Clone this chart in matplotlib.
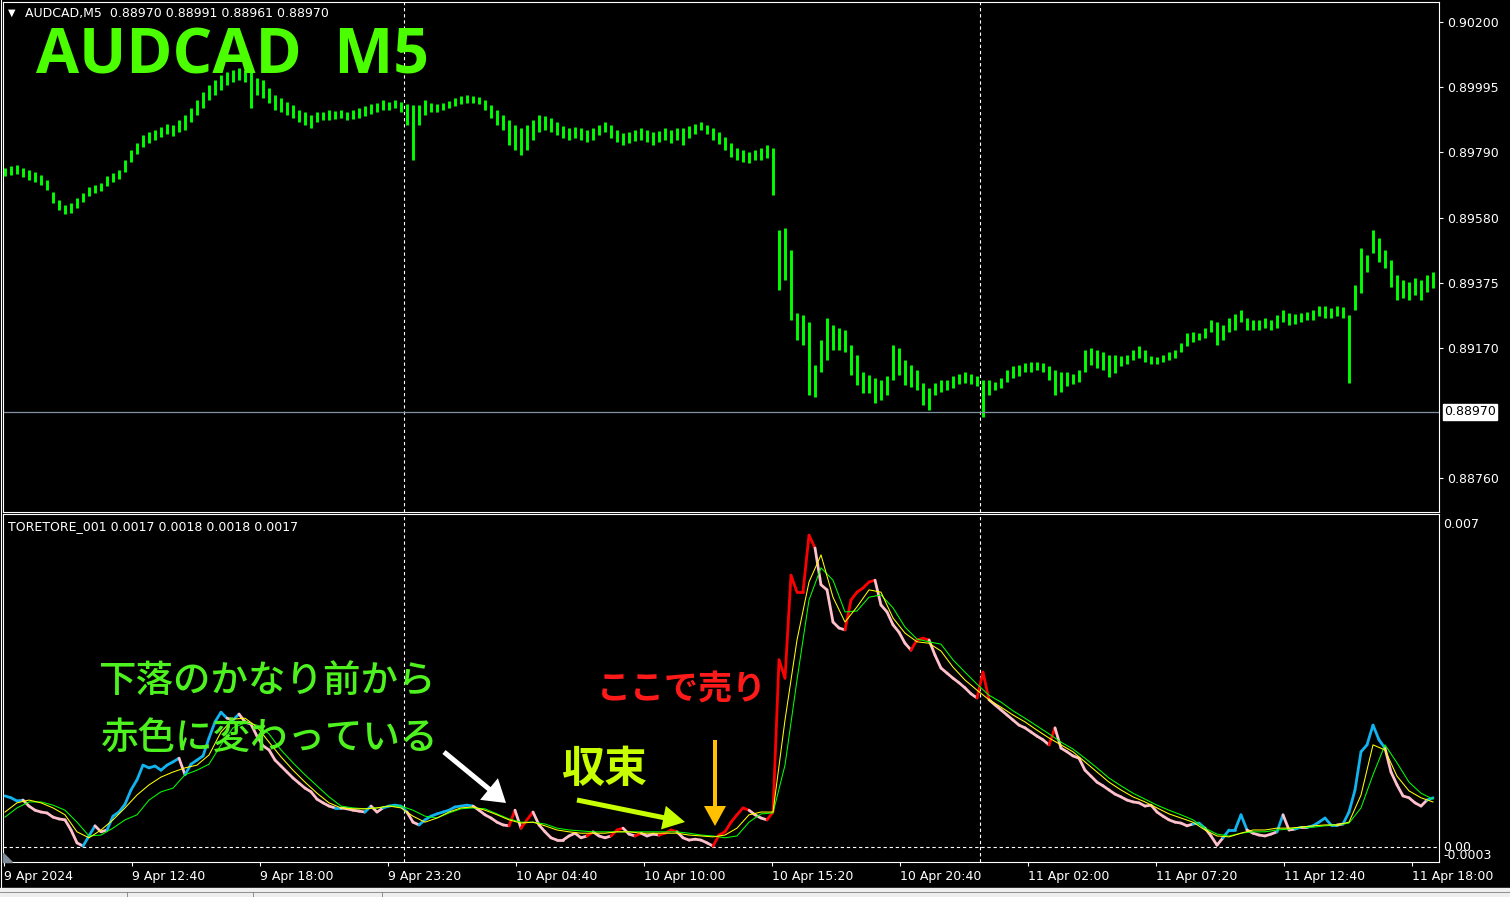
import numpy as np
import matplotlib.pyplot as plt
from matplotlib.collections import LineCollection
from matplotlib.patches import Polygon, Rectangle, FancyArrowPatch
from matplotlib.lines import Line2D
import matplotlib.transforms as mtransforms

# ---- data (M5 bars, sampled every 3rd bar) ----
# price highs / lows in points above 0.88000
price_hi = [1739, 1745, 1748, 1739, 1733, 1726, 1717, 1701, 1663, 1638,
            1622, 1628, 1644, 1660, 1679, 1685, 1692, 1714, 1723, 1733,
            1764, 1796, 1818, 1843, 1853, 1859, 1868, 1878, 1875, 1891,
            1906, 1928, 1954, 1979, 2001, 2017, 2033, 2042, 2048, 2055,
            2048, 2042, 2023, 2017, 1992, 1969, 1960, 1947, 1938, 1922,
            1916, 1906, 1916, 1916, 1922, 1919, 1922, 1916, 1922, 1928,
            1935, 1941, 1944, 1954, 1947, 1954, 1947, 1941, 1938, 1938,
            1954, 1944, 1941, 1944, 1951, 1960, 1966, 1969, 1966, 1963,
            1954, 1938, 1922, 1906, 1891, 1875, 1865, 1875, 1891, 1906,
            1903, 1897, 1884, 1872, 1865, 1868, 1865, 1859, 1865, 1875,
            1884, 1875, 1859, 1849, 1853, 1859, 1865, 1859, 1853, 1856,
            1865, 1859, 1865, 1865, 1872, 1878, 1884, 1875, 1865, 1853,
            1837, 1818, 1802, 1796, 1789, 1796, 1802, 1812, 1802, 1543,
            1549, 1480, 1281, 1275, 1253, 1117, 1196, 1265, 1243, 1234,
            1227, 1180, 1148, 1095, 1085, 1076, 1069, 1082, 1180, 1171,
            1133, 1117, 1101, 1060, 1044, 1060, 1069, 1069, 1082, 1088,
            1095, 1088, 1082, 1069, 1069, 1063, 1076, 1101, 1114, 1117,
            1123, 1126, 1126, 1123, 1114, 1101, 1095, 1095, 1088, 1101,
            1164, 1171, 1164, 1158, 1148, 1148, 1145, 1148, 1164, 1177,
            1164, 1145, 1142, 1148, 1158, 1164, 1186, 1218, 1221, 1218,
            1234, 1259, 1253, 1243, 1265, 1278, 1290, 1265, 1259, 1259,
            1265, 1259, 1275, 1290, 1281, 1278, 1281, 1284, 1290, 1303,
            1303, 1297, 1303, 1300, 1275, 1369, 1486, 1464, 1543, 1518,
            1480, 1448, 1401, 1385, 1379, 1392, 1385, 1401, 1411]
price_lo = [1714, 1717, 1720, 1711, 1701, 1695, 1685, 1669, 1628, 1606,
            1594, 1597, 1613, 1632, 1651, 1660, 1666, 1682, 1695, 1704,
            1726, 1758, 1783, 1805, 1818, 1827, 1837, 1846, 1840, 1853,
            1859, 1884, 1906, 1928, 1954, 1969, 1985, 2001, 2011, 2017,
            2011, 1928, 1969, 1960, 1944, 1922, 1916, 1906, 1897, 1884,
            1875, 1865, 1884, 1891, 1891, 1894, 1897, 1891, 1894, 1897,
            1903, 1909, 1916, 1922, 1922, 1928, 1916, 1875, 1764, 1875,
            1906, 1916, 1916, 1922, 1928, 1935, 1941, 1944, 1944, 1941,
            1922, 1897, 1875, 1859, 1812, 1796, 1780, 1796, 1827, 1853,
            1859, 1853, 1843, 1834, 1827, 1834, 1827, 1821, 1827, 1843,
            1853, 1834, 1821, 1812, 1818, 1824, 1827, 1821, 1812, 1821,
            1827, 1818, 1827, 1812, 1834, 1846, 1859, 1846, 1827, 1815,
            1796, 1774, 1764, 1758, 1755, 1764, 1764, 1771, 1654, 1354,
            1385, 1259, 1196, 1180, 1022, 1016, 1095, 1133, 1164, 1164,
            1158, 1085, 1054, 1028, 1028, 997, 1006, 1022, 1069, 1085,
            1054, 1047, 1038, 990, 975, 1022, 1032, 1038, 1044, 1057,
            1060, 1057, 1050, 953, 1022, 1038, 1044, 1063, 1076, 1082,
            1095, 1095, 1101, 1095, 1069, 1022, 1032, 1050, 1057, 1063,
            1095, 1117, 1107, 1101, 1079, 1092, 1114, 1120, 1133, 1139,
            1126, 1120, 1120, 1126, 1133, 1139, 1158, 1177, 1190, 1196,
            1202, 1221, 1180, 1196, 1221, 1227, 1253, 1227, 1227, 1227,
            1234, 1227, 1234, 1253, 1243, 1246, 1253, 1259, 1259, 1272,
            1265, 1265, 1272, 1265, 1060, 1290, 1344, 1411, 1471, 1442,
            1423, 1363, 1322, 1328, 1322, 1338, 1322, 1347, 1360]

# TORETORE_001 main line (x 1e-4), every 3rd bar
osc = [11.1, 10.7, 10.0, 10.2, 8.9, 8.0, 7.6, 7.4, 6.5, 6.1,
       5.9, 3.7, 0.9, 0.2, 2.4, 4.6, 3.3, 3.7, 6.7, 7.6,
       9.3, 12.4, 14.6, 17.8, 17.2, 17.6, 16.7, 17.8, 18.5, 19.3,
       15.7, 18.0, 18.9, 19.8, 23.7, 27.2, 29.3, 28.0, 27.6, 28.9,
       27.2, 26.7, 24.1, 22.0, 21.1, 18.9, 17.6, 16.3, 15.0, 13.9,
       12.8, 12.0, 10.4, 9.6, 8.9, 8.5, 8.5, 8.3, 8.0, 7.8,
       7.6, 8.9, 7.6, 8.5, 8.9, 9.1, 8.9, 7.6, 5.4, 4.8,
       5.9, 6.7, 7.2, 7.6, 8.0, 8.7, 8.9, 9.1, 8.9, 8.0,
       7.0, 6.3, 5.4, 4.8, 4.6, 8.0, 4.1, 5.9, 7.6, 4.8,
       3.3, 2.0, 1.5, 1.5, 2.4, 3.0, 2.0, 2.4, 3.3, 2.4,
       2.0, 2.4, 3.7, 4.1, 2.8, 2.4, 3.0, 2.4, 2.8, 2.6,
       3.0, 3.7, 3.3, 2.0, 1.5, 1.7, 1.5, 0.9, 0.2, 2.6,
       3.3, 5.4, 7.0, 8.5, 8.0, 7.0, 6.3, 5.9, 7.6, 40.7,
       36.7, 59.1, 55.4, 55.4, 67.8, 65.0, 57.0, 55.9, 48.9, 47.6,
       47.2, 53.7, 55.4, 56.3, 57.6, 58.0, 52.6, 51.1, 48.3, 46.7,
       44.3, 42.8, 45.0, 45.4, 45.0, 41.7, 38.9, 37.8, 36.7, 35.7,
       34.6, 33.3, 32.4, 38.0, 32.0, 30.9, 29.8, 28.7, 27.6, 26.5,
       25.9, 25.0, 24.1, 23.3, 22.2, 25.9, 21.5, 20.7, 19.8, 19.3,
       16.7, 15.4, 14.1, 13.3, 12.4, 11.5, 10.9, 10.2, 9.8, 9.6,
       8.9, 9.1, 7.6, 6.7, 5.9, 5.4, 5.2, 4.6, 5.0, 5.2,
       4.1, 2.4, 0.4, 2.0, 3.7, 3.7, 7.0, 3.7, 3.0, 2.6,
       2.4, 2.8, 3.3, 7.0, 3.7, 3.9, 4.3, 4.3, 4.6, 5.4,
       6.3, 4.8, 4.8, 5.0, 7.6, 12.4, 20.7, 22.2, 26.5, 23.3,
       21.5, 16.3, 13.5, 11.1, 10.7, 9.6, 8.9, 10.2, 10.7]

# signal lines (x 1e-4), every 6th bar
ma_fast = [7.6, 9.6, 10.2, 9.6, 8.5, 7.0, 3.3, 2.0, 3.7, 5.9,
           8.5, 11.3, 13.5, 15.2, 16.3, 17.2, 17.8, 20.0, 25.0, 27.8,
           28.0, 26.1, 22.8, 19.6, 16.7, 14.1, 11.7, 9.6, 8.5, 8.3,
           8.3, 8.5, 8.9, 8.5, 6.7, 5.4, 6.3, 7.6, 8.5, 8.7,
           8.0, 7.0, 5.9, 5.2, 5.4, 4.6, 3.7, 3.3, 3.0, 3.0,
           3.0, 3.3, 3.3, 3.0, 3.0, 3.0, 3.0, 2.6, 2.4, 2.2,
           2.6, 4.1, 7.0, 7.6, 7.6, 27.6, 45.0, 57.6, 63.5, 54.3,
           48.9, 52.2, 55.9, 55.4, 49.8, 46.5, 44.6, 44.3, 42.6, 39.1,
           36.3, 34.1, 32.0, 30.4, 28.7, 27.2, 25.4, 23.7, 22.2, 20.7,
           18.5, 16.3, 14.1, 12.4, 10.9, 9.8, 8.5, 7.2, 6.3, 5.4,
           3.7, 2.4, 2.2, 3.0, 3.7, 3.7, 4.1, 4.1, 4.3, 4.6,
           4.8, 4.8, 5.4, 11.3, 22.2, 21.1, 15.4, 12.2, 10.7, 9.8]
ma_slow = [6.5, 8.5, 9.8, 9.8, 9.1, 8.0, 5.4, 2.4, 2.6, 4.1,
           5.9, 7.0, 10.2, 12.0, 12.8, 15.7, 16.7, 18.0, 22.2, 25.9,
           27.0, 26.5, 24.6, 21.1, 18.3, 15.7, 13.3, 10.9, 8.9, 8.5,
           8.3, 8.5, 8.9, 8.9, 8.0, 6.7, 6.3, 7.4, 8.3, 8.5,
           8.3, 7.2, 6.1, 5.4, 5.4, 5.0, 4.1, 3.7, 3.5, 3.3,
           3.3, 3.3, 3.3, 3.3, 3.3, 3.3, 3.3, 3.0, 2.6, 2.4,
           2.0, 2.4, 5.4, 7.2, 7.4, 17.8, 36.3, 53.7, 60.7, 58.0,
           51.1, 51.3, 54.3, 54.8, 52.0, 47.8, 45.2, 44.6, 44.1, 40.7,
           38.0, 35.4, 33.0, 31.5, 29.6, 28.0, 26.3, 24.6, 22.8, 21.3,
           19.3, 17.2, 15.0, 13.3, 11.7, 10.4, 9.1, 8.0, 7.0, 5.9,
           4.1, 2.8, 2.4, 3.0, 3.3, 3.3, 3.7, 3.9, 4.3, 4.3,
           4.6, 4.8, 5.2, 8.5, 15.7, 22.2, 18.3, 14.1, 11.7, 10.4]

price_ticks = [0.90200, 0.89995, 0.89790, 0.89580, 0.89375, 0.89170, 0.88760]
last_price = 0.88970
time_labels = ['9 Apr 2024', '9 Apr 12:40', '9 Apr 18:00', '9 Apr 23:20',
               '10 Apr 04:40', '10 Apr 10:00', '10 Apr 15:20', '10 Apr 20:40',
               '11 Apr 02:00', '11 Apr 07:20', '11 Apr 12:40', '11 Apr 18:00']
red_from, red_to = 255, 590   # bars where the indicator paints red instead of blue

hi = 0.88 + np.array(price_hi) / 1e5
lo = 0.88 + np.array(price_lo) / 1e5
bar_idx = np.arange(len(price_hi)) * 3
osc = np.array(osc) * 1e-4
osc_idx = np.arange(len(osc)) * 3
fast = np.array(ma_fast) * 1e-4
slow = np.array(ma_slow) * 1e-4
ma_idx = np.arange(len(ma_fast)) * 6

# ---- figure ----
W, H = 1510, 897
fig = plt.figure(figsize=(W / 100, H / 100), dpi=100, facecolor='black')

def fx(x):
    return x / W

def fy(y):
    return 1 - y / H

def px_axes(x0, y0, x1, y1):
    a = fig.add_axes([fx(x0), fy(y1), (x1 - x0) / W, (y1 - y0) / H])
    a.set_facecolor('black')
    for s in a.spines.values():
        s.set_color('white')
        s.set_linewidth(0.8)
    return a

ax1 = px_axes(3, 2, 1439, 512)
ax2 = px_axes(3, 514, 1439, 862)
for a in (ax1, ax2):
    a.set_xlim(-1, 717)
    for xv in (199.5, 487.5):
        a.axvline(xv, color='white', lw=0.8, ls=(0, (3, 2.5)))

# price panel
ax1.set_ylim(0.88653, 0.90263)
ax1.vlines(bar_idx, lo, hi, color='#00ff00', lw=2.1)
ax1.axhline(last_price, color='#8090a0', lw=0.9)
ax1.set_xticks([])
ax1.yaxis.tick_right()
ax1.set_yticks(price_ticks)
ax1.set_yticklabels(['%.5f' % p for p in price_ticks])
ax1.tick_params(axis='y', colors='white', length=3, width=0.8, pad=3, labelsize=9)
tr = mtransforms.blended_transform_factory(ax1.transAxes, ax1.transData)
ax1.text(1.0035, last_price, '%.5f' % last_price, transform=tr, color='black',
         fontsize=9, va='center', ha='left',
         bbox=dict(boxstyle='square,pad=0.12', fc='white', ec='white'))

# indicator panel
ax2.set_ylim(-0.000326, 0.007239)
ax2.axhline(0, color='white', lw=0.8, ls=(0, (3, 2.5)))
fast_at = np.interp(osc_idx, ma_idx, fast)
cols = []
for k in range(1, len(osc)):
    if osc[k] < fast_at[k]:
        cols.append('#ffc0cb')
    elif red_from <= osc_idx[k] <= red_to:
        cols.append('#ff0000')
    else:
        cols.append('#12b4f0')
pts = np.column_stack([osc_idx, osc])
segs = np.stack([pts[:-1], pts[1:]], axis=1)
ax2.add_collection(LineCollection(segs, colors=cols, linewidths=2.0, capstyle='round'))
ax2.plot(ma_idx, slow, color='#00ff00', lw=0.75)
ax2.plot(ma_idx, fast, color='#ffff00', lw=0.75)
ax2.set_yticks([])
ticks = np.arange(len(time_labels)) * 64 - 0.5
ax2.set_xticks(ticks)
ax2.set_xticklabels(time_labels)
for lbl in ax2.get_xticklabels():
    lbl.set_ha('left')
ax2.tick_params(axis='x', colors='white', length=3, width=0.8, pad=3, labelsize=9)
ax2.text(1.003, 0.007, '0.007', transform=mtransforms.blended_transform_factory(ax2.transAxes, ax2.transData),
         color='white', fontsize=9, va='center', ha='left')
fig.text(fx(1443), fy(847), '0.00', color='white', fontsize=9, va='center', ha='left')
fig.text(fx(1443), fy(855), '-0.0003', color='white', fontsize=9, va='center', ha='left')

# headers
fig.text(fx(8), fy(13), '▼', color='white', fontsize=7, va='center', ha='left')
fig.text(fx(25), fy(13), 'AUDCAD,M5  0.88970 0.88991 0.88961 0.88970', color='white',
         fontsize=9, va='center', ha='left')
fig.text(fx(8), fy(527), 'TORETORE_001 0.0017 0.0018 0.0018 0.0017', color='white',
         fontsize=9, va='center', ha='left')
fig.text(fx(36), fy(57), 'AUDCAD  M5', color='#4cff00', fontsize=45, fontweight='bold',
         family=['Open Sans', 'DejaVu Sans'], va='center', ha='left')

# annotations
jp = ['Noto Sans CJK JP', 'DejaVu Sans']
fig.text(fx(268), fy(681), '下落のかなり前から', color='#4ef21e', fontsize=27, family=jp,
         fontweight='medium', va='center', ha='center')
fig.text(fx(270), fy(739), '赤色に変わっている', color='#4ef21e', fontsize=27, family=jp,
         fontweight='medium', va='center', ha='center')
fig.text(fx(682), fy(689), 'ここで売り', color='#ff1a1a', fontsize=24.5, family=jp,
         fontweight='bold', va='center', ha='center')
fig.text(fx(604), fy(769), '収束', color='#c8ff00', fontsize=31, family=jp,
         fontweight='bold', va='center', ha='center')

def arrow(tail, tip, color, hw, hl, tw):
    fig.patches.append(FancyArrowPatch(
        (fx(tail[0]), fy(tail[1])), (fx(tip[0]), fy(tip[1])), transform=fig.transFigure,
        arrowstyle='simple,head_width=%g,head_length=%g,tail_width=%g' % (hw, hl, tw),
        mutation_scale=0.72, color=color, lw=0, shrinkA=0, shrinkB=0))

arrow((444, 752), (506, 803), 'white', 28, 22, 5)
arrow((577, 800), (685, 822), '#c8ff00', 24, 22, 5)
arrow((715, 740), (715, 826), '#ffc000', 22, 20, 4)

# frame details
fig.patches.append(Polygon([(fx(3), fy(853)), (fx(3), fy(862)), (fx(12), fy(862))],
                           closed=True, transform=fig.transFigure, color='#7f8c99'))
fig.lines.append(Line2D([fx(1), fx(1)], [fy(0), fy(888)], transform=fig.transFigure,
                        color='white', lw=0.8))
fig.patches.append(Rectangle((0, 0), 1, 9 / H, transform=fig.transFigure, color='#eeeeee'))
fig.lines.append(Line2D([0, 1], [fy(891.5), fy(891.5)], transform=fig.transFigure,
                        color='#808080', lw=0.6))
for xs in (127, 253, 382):
    fig.lines.append(Line2D([fx(xs), fx(xs)], [0, fy(892)], transform=fig.transFigure,
                            color='#808080', lw=0.6))

fig.savefig('out.png', dpi=100, facecolor='black')
